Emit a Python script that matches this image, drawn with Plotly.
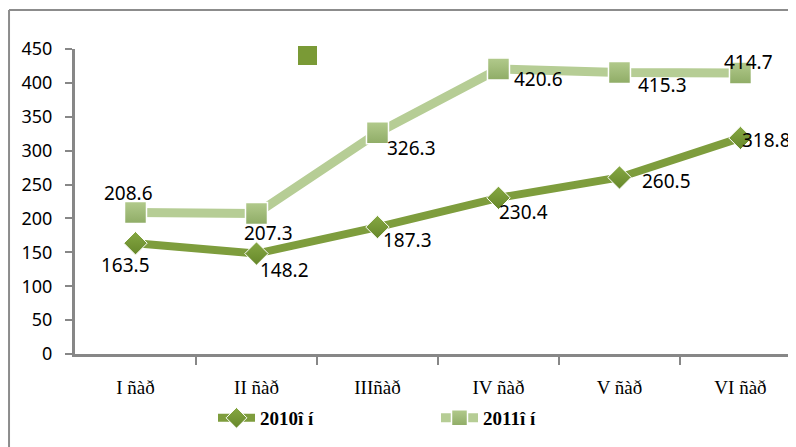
import plotly.graph_objects as go

categories = ["I ñàð", "II ñàð", "IIIñàð", "IV ñàð", "V ñàð", "VI ñàð"]
series_2010 = [163.5, 148.2, 187.3, 230.4, 260.5, 318.8]
series_2011 = [208.6, 207.3, 326.3, 420.6, 415.3, 414.7]
name_2010 = "2010î í"
name_2011 = "2011î í"
y_ticks = [0, 50, 100, 150, 200, 250, 300, 350, 400, 450]

# label offsets in pixels (dx right, dy down) relative to each point
offsets_2010 = [(-10, 22), (28, 16), (30, 13), (25, 14), (47, 4), (26, 2)]
offsets_2011 = [(-7, -20), (12, 19), (34, 15), (40, 10), (43, 12), (8, -11)]

x = list(range(len(categories)))
label_font = dict(family="Noto Sans", size=19, color="#000000")

fig = go.Figure()
fig.add_trace(go.Scatter(
    x=x, y=series_2011, name=name_2011, mode="lines+markers",
    line=dict(color="#b6cd95", width=9),
    marker=dict(symbol="square", size=22, color="#b2ca8c",
                gradient=dict(type="vertical", color="#8fac66"),
                line=dict(color="#ffffff", width=1.5)),
    cliponaxis=False,
))
fig.add_trace(go.Scatter(
    x=x, y=series_2010, name=name_2010, mode="lines+markers",
    line=dict(color="#7e9d3d", width=8),
    marker=dict(symbol="diamond", size=18, color="#86a843",
                gradient=dict(type="vertical", color="#66872a"),
                line=dict(color="#ffffff", width=1)),
    cliponaxis=False,
))

annotations = []
for vals, offs in ((series_2010, offsets_2010), (series_2011, offsets_2011)):
    for xi, v, (dx, dy) in zip(x, vals, offs):
        annotations.append(dict(x=xi, y=v, xref="x", yref="y", text=f"{v:.1f}",
                                showarrow=False, xshift=dx, yshift=-dy,
                                font=label_font, xanchor="center", yanchor="middle"))

axis_color = "#878787"
# page has an 8px body margin, so the figure is 788x439 and offset by 8px
fig.update_layout(
    width=788, height=439,
    margin=dict(l=67, r=0, t=41, b=93, autoexpand=False),
    paper_bgcolor="white", plot_bgcolor="white",
    showlegend=True,
    legend=dict(orientation="h", x=(213 - 75) / 721, y=(354 - 418) / 305,
                xanchor="left", yanchor="middle",
                traceorder="reversed", entrywidth=171, itemwidth=37,
                font=dict(family="Liberation Serif", size=19, color="#000000", weight="bold"),
                bgcolor="rgba(0,0,0,0)"),
    xaxis=dict(range=[-0.5, 5.459], tickvals=x, ticktext=categories, ticks="",
               showline=True, linecolor=axis_color, linewidth=3, showgrid=False,
               zeroline=False, ticklabelstandoff=14,
               tickfont=dict(family="Liberation Serif", size=19, color="#000000"),
               minor=dict(tickvals=[0.5, 1.5, 2.5, 3.5, 4.5], ticks="outside", ticklen=8,
                          tickwidth=2, tickcolor=axis_color, showgrid=False)),
    yaxis=dict(range=[0, 450], tickvals=y_ticks, ticks="outside", ticklen=7, tickwidth=2,
               tickcolor=axis_color, showline=True, linecolor=axis_color, linewidth=3,
               showgrid=False, zeroline=False, ticklabelstandoff=9,
               tickfont=dict(family="Noto Sans", size=18, color="#000000")),
    annotations=annotations,
    shapes=[
        dict(type="line", xref="paper", yref="paper", x0=-0.0915, x1=-0.0915, y0=-0.5, y1=1.128,
             line=dict(color="#8c8c8c", width=2)),
        dict(type="line", xref="paper", yref="paper", x0=-0.0915, x1=1.1, y0=1.128, y1=1.128,
             line=dict(color="#8c8c8c", width=2)),
        dict(type="rect", xref="paper", yref="paper",
             x0=(298 - 75) / 721, x1=(317 - 75) / 721, y0=(354 - 65) / 305, y1=(354 - 46) / 305,
             fillcolor="#7a9a36", line=dict(width=0)),
    ],
)

fig.write_html("out.html")
